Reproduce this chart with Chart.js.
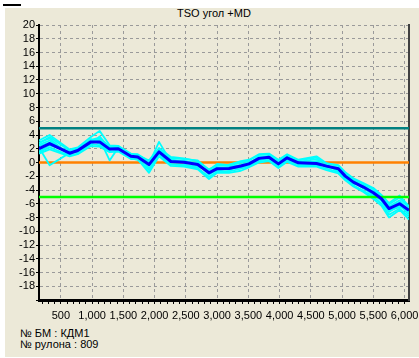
<!DOCTYPE html>
<html>
<head>
<meta charset="utf-8">
<script src="https://cdn.jsdelivr.net/npm/chart.js@4/dist/chart.umd.min.js"></script>
<style>
    body { margin: 0; background: #fff; width: 419px; height: 358px; overflow: hidden; position: relative; }
    .panel { position: absolute; left: 5px; top: 8px; width: 414px; height: 349px; background: #ece9d8; }
    .dash { position: absolute; left: 3px; top: 4px; width: 18px; height: 2px; background: #000; }
    .txt { position: absolute; font: 11px "Liberation Sans", Arial, sans-serif; color: #000; line-height: 13px; white-space: nowrap; }
    #chart { position: absolute; left: 0; top: 0; }
</style>
</head>
<body>
<div class="panel"></div>
<div class="dash"></div>
<div class="txt" id="title" style="left:177px; top:7px;">TSO угол +MD</div>
<div class="txt" style="left:20px; top:327px;">№ БМ : КДМ1</div>
<div class="txt" style="left:20px; top:338px;">№ рулона : 809</div>
<canvas id="chart" width="419" height="358"></canvas>
<script>
// --- Data ---
const xMin = 150;
const xMax = 6070;
const xLabelTicks = [500, 1000, 1500, 2000, 2500, 3000, 3500, 4000, 4500, 5000, 5500, 6000];
const xMinorStep = 100;

const positions = [150, 320, 640, 770, 980, 1120, 1280, 1420, 1620, 1730, 1910, 2070, 2260, 2470, 2690, 2870, 3000, 3190,
    3380, 3510, 3670, 3830, 3980, 4120, 4300, 4590, 4750, 4940, 5050, 5180, 5340, 5500, 5630, 5750, 5920, 6070];

// average angle (thick blue line)
const meanAngle = [2.0, 2.75, 1.35, 1.75, 3.0, 3.0, 1.95, 2.0, 0.9, 0.8, -0.3, 1.55, 0.15, 0.05, -0.3, -1.5, -0.9, -0.87,
    -0.5, -0.2, 0.6, 0.77, -0.2, 0.68, -0.05, -0.15, -0.53, -0.92, -1.98, -2.85, -3.57, -4.4, -5.27, -6.7, -6.0, -6.96];

// single scans (cyan)
const scan1 = [3.2, 4.0, 1.9, 2.2, 3.7, 4.6, 2.5, 2.4, 1.3, 1.1, 0.3, 2.1, 0.8, 0.6, 0.2, -1.0, -0.4, -0.3,
    0.2, 0.4, 1.2, 1.3, 0.4, 1.2, 0.4, 0.9, -0.1, -0.4, -1.4, -2.3, -3.0, -3.7, -4.7, -5.9, -4.8, -6.4];
const scan2 = [1.3, 1.9, 0.9, 1.2, 2.4, 2.3, 1.5, 1.6, 0.5, 0.5, -1.5, 0.9, -0.5, -0.6, -1.0, -2.4, -1.5, -1.5,
    -1.2, -0.7, 0.0, 0.2, -0.8, 0.1, -0.6, -0.6, -1.1, -1.6, -2.6, -3.5, -4.3, -5.3, -6.3, -8.0, -6.9, -8.3];
const scan3 = [2.2, -0.4, 1.4, 1.6, 3.1, 3.4, 0.3, 2.2, 0.9, 0.6, -0.5, 1.3, 0.3, 0.2, -0.1, -1.8, -1.0, -0.6,
    -0.8, -0.1, 0.8, 0.6, -0.4, 0.8, 0.2, -0.3, -0.4, -1.1, -2.2, -3.1, -3.3, -4.6, -5.6, -7.2, -6.2, -7.6];
const scan4 = [2.6, 3.2, 1.2, 2.0, 2.8, 3.4, 2.2, 1.8, 1.1, 0.9, -0.2, 3.0, 0.1, 0.3, -0.4, -1.3, -0.7, -1.1,
    -0.3, 0.1, 0.4, 1.0, -0.1, 0.5, -0.2, 0.2, -0.7, -0.8, -1.7, -2.7, -3.8, -4.1, -5.0, -6.4, -5.5, -7.0];
const scan5 = [1.6, 2.5, 1.6, 1.4, 3.4, 2.7, 1.8, 2.4, 0.7, 1.0, -0.9, 1.0, -0.2, -0.3, -0.6, -1.2, -1.2, -0.9,
    -0.7, -0.5, 0.3, 0.5, 0.2, 0.9, -0.3, -0.4, -0.3, -1.3, -2.0, -2.5, -3.6, -4.8, -5.4, -7.0, -6.5, -6.8];
const scan6 = [2.9, 3.5, 1.1, 1.9, 2.6, 3.8, 2.0, 1.9, 1.0, 0.7, 0.0, 1.8, 0.5, 0.0, 0.0, -1.6, -0.5, -0.5,
    -0.4, -0.3, 0.9, 0.9, -0.5, 0.4, 0.1, 0.5, -0.6, -0.7, -1.9, -3.0, -3.4, -4.3, -5.1, -6.6, -5.8, -7.3];
const scan7 = [2.8, 3.7, 1.7, 2.1, 3.3, 3.6, 2.3, 2.3, 1.2, 1.2, 0.1, 1.9, 0.6, 0.5, 0.3, -1.1, -0.2, -0.4,
    0.0, 0.3, 1.1, 1.2, 0.2, 1.1, 0.3, 0.7, -0.2, -0.5, -1.5, -2.4, -3.2, -3.9, -4.9, -6.1, -5.1, -6.6];
const scan8 = [1.5, 2.2, 1.0, 1.3, 2.7, 2.5, 1.6, 1.7, 0.6, 0.4, -1.1, 1.2, -0.3, -0.4, -0.8, -2.1, -1.3, -1.3,
    -0.9, -0.6, 0.1, 0.3, -0.6, 0.3, -0.5, -0.5, -0.9, -1.4, -2.4, -3.3, -4.1, -5.0, -6.0, -7.6, -6.7, -7.9];
const scan9 = [2.4, 2.9, 1.5, 1.8, 3.2, 3.1, 2.1, 2.1, 0.8, 0.9, -0.4, 1.6, 0.2, 0.1, -0.2, -1.4, -0.8, -0.8,
    -0.6, -0.2, 0.7, 0.8, -0.3, 0.7, 0.0, 0.0, -0.5, -1.0, -2.1, -2.9, -3.7, -4.5, -5.4, -6.8, -6.1, -7.1];
const scans = [scan1, scan2, scan3, scan4, scan5, scan6, scan7, scan8, scan9];

// limits
const upperLimit = 5;
const centerLine = 0;
const lowerLimit = -5;

const yMin = -20;
const yMax = 20;

const tickFont = { family: '"Liberation Sans Narrow", "Liberation Sans", Arial, sans-serif', size: 11 };

function toPoints(values) {
    return values.map((v, i) => ({ x: positions[i], y: v }));
}
function flatLine(value) {
    return [{ x: xMin, y: value }, { x: xMax, y: value }];
}

const datasets = [];

datasets.push({ data: toPoints(meanAngle), borderColor: '#0000ff', borderWidth: 3, order: 0 });
datasets.push({ data: flatLine(lowerLimit), borderColor: '#00ff00', borderWidth: 2.5, order: 1 });
scans.forEach(s => {
    datasets.push({ data: toPoints(s), borderColor: '#00ffff', borderWidth: 1.8, order: 2 });
});
datasets.push({ data: flatLine(upperLimit), borderColor: '#008080', borderWidth: 2.5, order: 3 });
datasets.push({ data: flatLine(centerLine), borderColor: '#ff8000', borderWidth: 2.5, order: 3 });

Chart.defaults.color = '#000';

new Chart(document.getElementById('chart'), {
    type: 'scatter',
    data: { datasets: datasets },
    options: {
        responsive: false,
        animation: false,
        showLine: true,
        elements: { point: { radius: 0 }, line: { tension: 0, borderJoinStyle: 'round' } },
        layout: { padding: { left: 5, top: 25, right: 8, bottom: 0 } },
        plugins: { legend: { display: false }, tooltip: { enabled: false } },
        scales: {
            x: {
                type: 'linear',
                min: xMin,
                max: xMax,
                ticks: {
                    autoSkip: false,
                    maxRotation: 0,
                    minRotation: 0,
                    padding: 5,
                    font: tickFont,
                    callback: v => (xLabelTicks.includes(v) ? v.toLocaleString('en-US') : '')
                },
                // minor tick marks every 100, labels only on the 500 steps
                afterBuildTicks: scale => {
                    const list = [];
                    for (let v = Math.ceil(xMin / xMinorStep) * xMinorStep; v <= xMax; v += xMinorStep) {
                        list.push({ value: v });
                    }
                    scale.ticks = list;
                },
                grid: {
                    color: ctx => (ctx.tick && xLabelTicks.includes(ctx.tick.value) ? '#9a9a9a' : 'rgba(0,0,0,0)'),
                    tickColor: '#000',
                    tickLength: 4,
                    lineWidth: 1
                },
                border: { color: '#000', width: 3, dash: [3, 3] },
                afterFit: scale => { scale.height = 58; scale.paddingLeft = 0; scale.paddingRight = 0; }
            },
            y: {
                min: yMin,
                max: yMax,
                ticks: {
                    stepSize: 2,
                    autoSkip: false,
                    padding: 1,
                    font: tickFont,
                    callback: v => (v === yMin ? '' : v)
                },
                grid: { color: '#9a9a9a', tickColor: '#000', tickLength: 3 },
                border: { color: '#000', width: 2, dash: [3, 3] },
                afterFit: scale => { scale.width = 34; }
            },
            yRight: {
                position: 'right',
                min: yMin,
                max: yMax,
                ticks: { display: false },
                grid: { drawOnChartArea: false, drawTicks: false },
                border: { color: '#404040', width: 2 },
                afterFit: scale => { scale.width = 2; }
            }
        }
    }
});
</script>
</body>
</html>
